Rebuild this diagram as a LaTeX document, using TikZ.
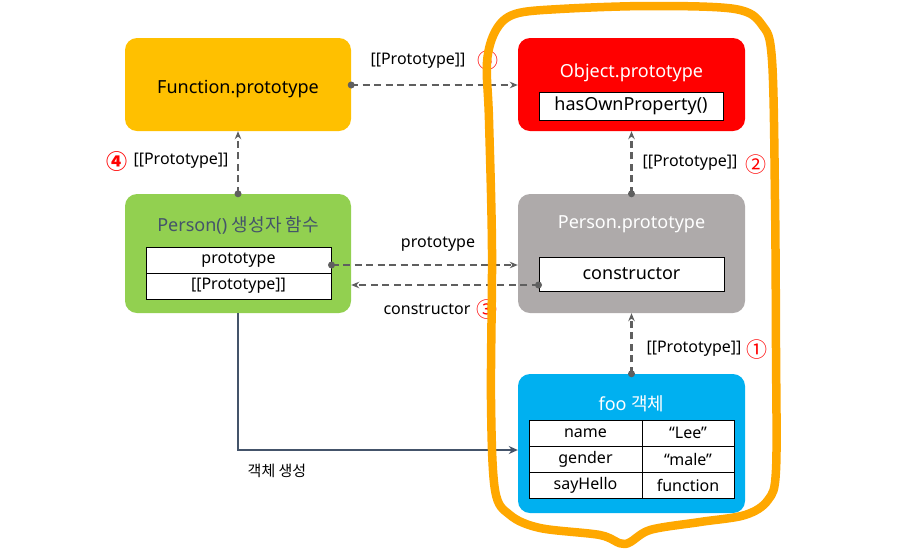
\documentclass[tikz,border=0pt]{standalone}
\usepackage{fontspec}
\setmainfont{Noto Sans}
\newfontfamily\kr{Noto Sans CJK KR}
\usetikzlibrary{arrows.meta}
\definecolor{cyellow}{HTML}{FFC000}
\definecolor{cred}{HTML}{FF0000}
\definecolor{cgray}{HTML}{AEAAAA}
\definecolor{cgreen}{HTML}{92D050}
\definecolor{cblue}{HTML}{00B0F0}
\definecolor{corange}{HTML}{FFA800}
\definecolor{cconn}{HTML}{5F5F5F}
\definecolor{cslate}{HTML}{44546A}
\tikzset{
  box/.style={rounded corners=12pt, inner sep=0pt},
  cell/.style={draw=black, fill=white, line width=1pt, inner sep=0pt, font=\fontsize{16}{19}\selectfont},
  ttl/.style={font=\fontsize{18}{22}\selectfont, inner sep=0pt},
  lbl/.style={font=\fontsize{16}{19}\selectfont, inner sep=0pt, text=black},
  num/.style={font=\kr\fontsize{21}{24}\selectfont, text=red, inner sep=0pt},
  conn/.style={draw=cconn, line width=2.3pt, dash pattern=on 7pt off 4.5pt, -{Stealth[length=8pt,width=6.5pt]}},
  dot/.style={fill=cconn},
}
\begin{document}
\begin{tikzpicture}[x=1pt,y=-1pt]
\useasboundingbox (0,0) rectangle (900,550);
% boxes
\node[box, fill=cyellow, minimum width=226pt, minimum height=93pt] (fp) at (238,84.5) {};
\node[box, fill=cred, minimum width=227pt, minimum height=93pt] (op) at (631.5,84.5) {};
\node[box, fill=cgray, minimum width=227pt, minimum height=119pt] (ppt) at (631.5,253.5) {};
\node[box, fill=cgreen, minimum width=226pt, minimum height=119pt] (pp) at (238,253.5) {};
\node[box, fill=cblue, minimum width=227pt, minimum height=139pt] (foo) at (631.5,443.5) {};
% titles
\node[ttl, text=black] (fpt) at (238,89) {Function.prototype};
\node[ttl, text=white] (opt) at (631.5,73) {Object.prototype};
\node[ttl, text=white] (pptt) at (631.5,224) {Person.prototype};
\node[ttl, text=cslate] (ppt2) at (238,225) {Person() {\kr 생성자 함수}};
\node[ttl, text=white] (foot) at (631.5,404) {foo {\kr 객체}};
% inner cells
\node[cell, minimum width=184pt, minimum height=28pt, font=\fontsize{18}{22}\selectfont] (hop) at (631,106) {hasOwnProperty()};
\node[cell, minimum width=185pt, minimum height=34pt, font=\fontsize{18}{22}\selectfont] (cons) at (631.5,274) {constructor};
\node[cell, minimum width=185pt, minimum height=26pt] (pr1) at (238.5,260) {prototype};
\node[cell, minimum width=185pt, minimum height=26pt] (pr2) at (238.5,286) {[[Prototype]]};
\node[cell, minimum width=113pt, minimum height=26pt] (t11) at (585.5,433) {name};
\node[cell, minimum width=92pt, minimum height=26pt] (t12) at (688,433) {“Lee”};
\node[cell, minimum width=113pt, minimum height=26pt] (t21) at (585.5,459) {gender};
\node[cell, minimum width=92pt, minimum height=26pt] (t22) at (688,459) {“male”};
\node[cell, minimum width=113pt, minimum height=26pt] (t31) at (585.5,485) {sayHello};
\node[cell, minimum width=92pt, minimum height=26pt] (t32) at (688,485) {function};
% connectors
\draw[conn] ([yshift=-0.5pt]fp.east) -- ([yshift=-0.5pt]op.west);
\fill[dot] ([yshift=-0.5pt]fp.east) circle (3.5pt);
\draw[conn] (pp.north) -- (fp.south);
\fill[dot] (pp.north) circle (3.5pt);
\draw[conn] (ppt.north) -- (op.south);
\fill[dot] (ppt.north) circle (3.5pt);
\draw[conn] (foo.north) -- (ppt.south);
\fill[dot] (foo.north) circle (3.5pt);
\draw[conn] ([yshift=-5pt]pr1.east) -- ([yshift=-5pt]pr1.east -| ppt.west);
\fill[dot] ([yshift=-5pt]pr1.east) circle (3.5pt);
\draw[conn] ([yshift=-11pt]cons.west) -- ([yshift=-11pt]cons.west -| pp.east);
\fill[dot] ([yshift=-11pt]cons.west) circle (3.5pt);
\draw[draw=cslate, line width=2.5pt, -{Stealth[length=9pt,width=8pt]}] (pp.south) |- ([yshift=-6.5pt]foo.west);
% labels
\node[lbl] (l1) at (418,61) {[[Prototype]]};
\node[num] (n5) at (488,61) {⑤};
\node[num, font=\kr\bfseries\fontsize{21}{24}\selectfont] (n4) at (117,162) {④};
\node[lbl] (l4) at (181,161) {[[Prototype]]};
\node[lbl] (l2) at (690,163) {[[Prototype]]};
\node[num] (n2) at (756,165) {②};
\node[lbl] (l3) at (694,349) {[[Prototype]]};
\node[num] (n1) at (757,350) {①};
\node[lbl] (lp) at (438,244) {prototype};
\node[lbl] (lc) at (427,309) {constructor};
\node[num] (n3) at (487,310) {③};
\node[lbl, font=\kr\fontsize{15}{18}\selectfont] (lo) at (277,471) {객체 생성};
% orange outline
\draw[corange, line width=8.5pt, line join=round]
  plot[smooth cycle, tension=0.55] coordinates {
  (487,62) (496,30) (515,14) (560,9) (650,6) (735,9) (762,25) (772,60)
  (775,200) (776,350) (776,470) (768,500) (745,515) (700,522) (650,530)
  (625,544) (600,535) (540,528) (510,515) (495,490) (491,400) (492,250) (489,120)};
\end{tikzpicture}
\end{document}
